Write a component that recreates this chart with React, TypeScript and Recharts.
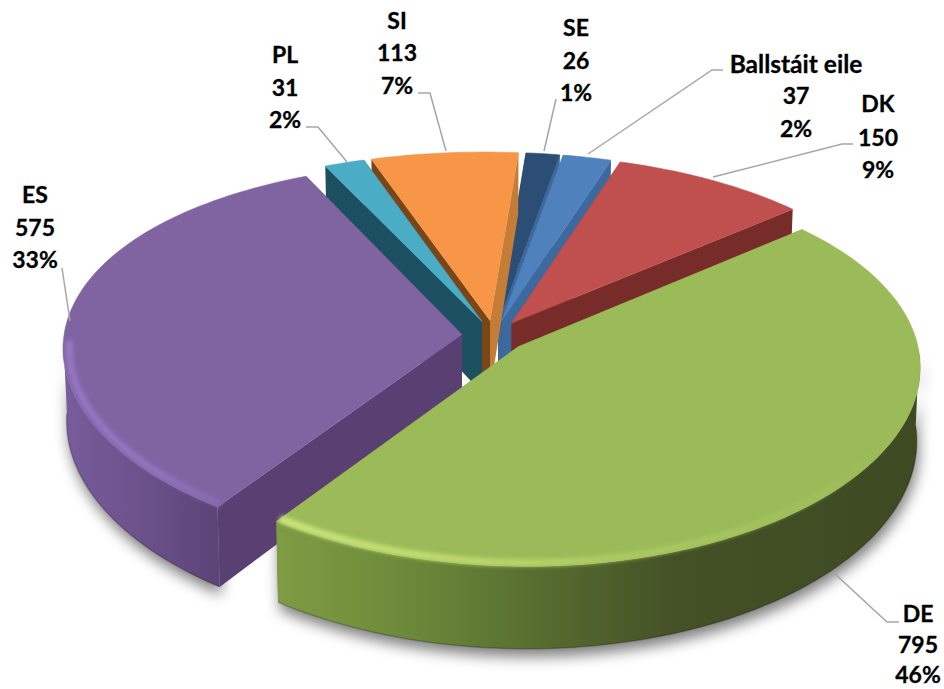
import { Pie, PieChart } from "recharts";

const names = ["DE", "ES", "PL", "SI", "SE", "Ballstáit eile", "DK"];
const values = [795, 575, 31, 113, 26, 37, 150];
const percentLabels = ["46%", "33%", "2%", "7%", "1%", "2%", "9%"];

const pieData = names.map((name, i) => ({ name, value: values[i], percentLabel: percentLabels[i] }));

// back slices first so the nearer ones cover their hidden side walls
const paintOrder = ["SE", "Ballstáit eile", "DK", "SI", "PL", "ES", "DE"];

const topColors: Record<string, string> = {
  DE: "#9bbb59",
  ES: "#8064a2",
  PL: "#4bacc6",
  SI: "#f79646",
  SE: "#2c4d75",
  "Ballstáit eile": "#4f81bd",
  DK: "#c0504d",
};

// cut faces: [clockwise-first side, clockwise-last side]
const faceColors: Record<string, [string, string]> = {
  DE: ["#5f7a32", "#5f7a32"],
  ES: ["#5a4072", "#5a4072"],
  PL: ["#1c5060", "#1c5060"],
  SI: ["#7a4618", "#c47d36"],
  SE: ["#1f3a5f", "#3d6a9e"],
  "Ballstáit eile": ["#2f5480", "#3d6a9e"],
  DK: ["#772c2a", "#772c2a"],
};

const wallStops: Record<string, [number, string][]> = {
  DE: [
    [0, "#7f9c43"],
    [0.2, "#6c8a3a"],
    [0.42, "#566b2f"],
    [0.62, "#445126"],
    [1, "#3e4a22"],
  ],
  ES: [
    [0, "#785c9c"],
    [0.5, "#6c518b"],
    [1, "#5c4477"],
  ],
  PL: [[0, "#1c5060"], [1, "#1c5060"]],
  SI: [[0, "#a8642a"], [1, "#a8642a"]],
  SE: [[0, "#1f3a5f"], [1, "#1f3a5f"]],
  "Ballstáit eile": [[0, "#3d6a9e"], [1, "#3d6a9e"]],
  DK: [[0, "#772c2a"], [1, "#772c2a"]],
};

const rimStops: Record<string, [number, string, number][]> = {
  DE: [
    [0, "#cde67e", 1],
    [0.25, "#c2dc70", 1],
    [0.5, "#aecd63", 1],
    [0.85, "#9fc05c", 0.8],
    [1, "#9bbb59", 0],
  ],
  ES: [
    [0, "#9678c4", 1],
    [0.6, "#9274bf", 1],
    [1, "#8a6cb4", 0.8],
  ],
};

// label centre, text rows and leader polyline per slice
const labelLayout: Record<string, { x: number; rows: number[]; leader: number[][]; nameSize?: number }> = {
  DE: { x: 918, rows: [613, 644, 674], leader: [[834, 573], [887, 622], [899, 622]] },
  ES: { x: 35, rows: [194, 227, 259], leader: [[70, 321], [62, 268]] },
  PL: { x: 285, rows: [54, 87, 119], leader: [[347, 162], [318, 127], [306, 127]] },
  SI: { x: 397, rows: [20, 52, 85], leader: [[446, 151], [430, 93], [418, 93]] },
  SE: { x: 576, rows: [27, 60, 92], leader: [[544, 151], [556, 99]] },
  "Ballstáit eile": { x: 796, rows: [63, 95, 128], leader: [[588, 154], [712, 70], [723, 70]], nameSize: 24.5 },
  DK: { x: 878, rows: [103, 137, 169], leader: [[713, 177], [842, 144], [853, 144]] },
};

const EXPLODE = 0.081;
const RAD = Math.PI / 180;

function project(cx: number, cy: number, r: number, x: number, y: number, z: number) {
  const px = cx + r * (x * (1 + 0.084 * y) * (1 - 0.008 * z) + 0.018 * y);
  const py = cy + r * 0.4887 * y * (1 + 0.1157 * y) + z * (72 + 10 * y);
  return [px, py];
}

function sliceGeometry(p: any) {
  const { cx, cy, outerRadius: r, startAngle, endAngle } = p;
  const mid = ((startAngle + endAngle) / 2) * RAD;
  const tx = EXPLODE * Math.cos(mid);
  const ty = -EXPLODE * Math.sin(mid);
  const steps = Math.ceil(Math.abs(endAngle - startAngle) / 1.5);
  const arc: number[][] = [];
  for (let i = 0; i <= steps; i++) {
    const a = (startAngle + ((endAngle - startAngle) * i) / steps) * RAD;
    arc.push([Math.cos(a), -Math.sin(a)]);
  }
  const raw = (q: number[], z: number, k = 1) => project(cx, cy, r, tx + q[0] * k, ty + q[1] * k, z);
  const at = (q: number[], z: number, k = 1) => raw(q, z, k).map((v) => v.toFixed(1)).join(" ");
  const tip = [0, 0];
  const first = arc[0];
  const last = arc[arc.length - 1];

  // only the near half of the rim faces the viewer
  const front = arc.filter((q) => q[1] >= 0.03);
  const xs = front.map((q) => raw(q, 0)[0]);
  const hasFront = front.length > 1;

  return {
    top: `M${at(tip, 0)} ` + arc.map((q) => `L${at(q, 0)}`).join(" ") + " Z",
    faceStart: `M${at(tip, 0)} L${at(first, 0)} L${at(first, 1)} L${at(tip, 1)} Z`,
    faceEnd: `M${at(tip, 0)} L${at(last, 0)} L${at(last, 1)} L${at(tip, 1)} Z`,
    wall: hasFront
      ? "M" +
        front.map((q) => at(q, 0)).join(" L") +
        " L" +
        [...front].reverse().map((q) => at(q, 1)).join(" L") +
        " Z"
      : "",
    rim: hasFront ? "M" + front.map((q) => at(q, 0, 0.985)).join(" L") : "",
    bottom: hasFront ? "M" + front.map((q) => at(q, 1)).join(" L") : "",
    x1: hasFront ? Math.min(...xs) : 0,
    x2: hasFront ? Math.max(...xs) : 1,
  };
}

function ShadowSlice(p: any) {
  if (p.name !== "DE" && p.name !== "ES") return <g />;
  const g = sliceGeometry(p);
  return <path d={g.wall} fill="rgba(0,0,0,0.5)" transform="translate(2 8)" style={{ filter: "blur(7px)" }} />;
}

function Slice(p: any) {
  const name: string = p.name;
  const g = sliceGeometry(p);
  const id = `wall-${names.indexOf(name)}`;
  const rim = rimStops[name];
  return (
    <g>
      <defs>
        <linearGradient id={id} gradientUnits="userSpaceOnUse" x1={g.x1} x2={g.x2} y1={0} y2={0}>
          {wallStops[name].map(([o, c]) => (
            <stop key={o} offset={o} stopColor={c} />
          ))}
        </linearGradient>
        {rim && (
          <linearGradient id={`${id}-rim`} gradientUnits="userSpaceOnUse" x1={g.x1} x2={g.x2} y1={0} y2={0}>
            {rim.map(([o, c, a]) => (
              <stop key={o} offset={o} stopColor={c} stopOpacity={a} />
            ))}
          </linearGradient>
        )}
      </defs>
      <path d={g.faceStart} fill={faceColors[name][0]} />
      <path d={g.faceEnd} fill={faceColors[name][1]} />
      <path d={g.wall} fill={`url(#${id})`} />
      {rim && <path d={g.bottom} fill="none" stroke="#000" strokeOpacity={0.22} strokeWidth={1.5} />}
      <path d={g.top} fill={topColors[name]} stroke={topColors[name]} strokeWidth={0.6} />
      {rim && (
        <path
          d={g.rim}
          fill="none"
          stroke={`url(#${id}-rim)`}
          strokeWidth={7}
          style={{ filter: "blur(2px)" }}
        />
      )}
    </g>
  );
}

function SliceLabel(p: any) {
  const entry = p.payload ?? p;
  const layout = labelLayout[entry.name];
  const rows = [entry.name, String(entry.value), entry.percentLabel];
  return (
    <g>
      <polyline
        points={layout.leader.map((q) => q.join(",")).join(" ")}
        fill="none"
        stroke="#a6a6a6"
        strokeWidth={1.5}
      />
      {rows.map((row, i) => (
        <text
          key={i}
          x={layout.x}
          y={layout.rows[i]}
          textAnchor="middle"
          dominantBaseline="central"
          fontFamily="Lato, sans-serif"
          fontWeight={700}
          fontSize={i === 0 && layout.nameSize ? layout.nameSize : 23}
          fill="#000"
          stroke="#000"
          strokeWidth={0.3}
        >
          {row}
        </text>
      ))}
    </g>
  );
}

const commonPie = {
  data: pieData,
  dataKey: "value",
  nameKey: "name",
  cx: 494,
  cy: 336,
  outerRadius: 398,
  startAngle: 40,
  endAngle: -320,
  stroke: "none",
  isAnimationActive: false,
};

export default function App() {
  return (
    <div style={{ position: "absolute", left: 0, top: 0, width: 944, height: 689, background: "#fff" }}>
      <PieChart width={944} height={689} margin={{ top: 0, right: 0, bottom: 0, left: 0 }}>
        <Pie {...commonPie} shape={ShadowSlice} />
        {paintOrder.map((name) => (
          <Pie
            key={name}
            {...commonPie}
            shape={(p: any) => (p.name === name ? <Slice {...p} /> : <g />)}
          />
        ))}
        <Pie {...commonPie} shape={() => <g />} label={SliceLabel} labelLine={false} />
      </PieChart>
    </div>
  );
}
